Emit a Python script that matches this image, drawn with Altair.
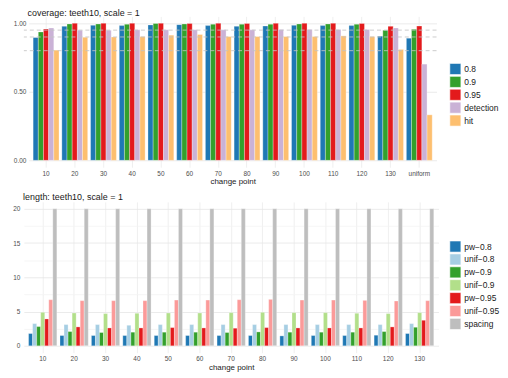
import altair as alt
import pandas as pd

# ---------- data ----------
cov_points = ["10", "20", "30", "40", "50", "60", "70", "80", "90", "100", "110", "120", "130", "uniform"]
cov_series = ["0.8", "0.9", "0.95", "detection", "hit"]
cov_colors = ["#1F78B4", "#33A02C", "#E31A1C", "#CAB2D6", "#FDBF6F"]
cov_08 = [0.896, 0.978, 0.985, 0.983, 0.988, 0.990, 0.983, 0.978, 0.980, 0.985, 0.983, 0.983, 0.906, 0.891]
cov_09 = [0.937, 0.995, 0.995, 0.993, 0.998, 0.995, 0.993, 0.993, 0.993, 0.995, 0.995, 0.993, 0.949, 0.956]
cov_095 = [0.959, 1.000, 1.000, 1.000, 1.000, 0.998, 1.000, 0.998, 1.000, 1.000, 1.000, 0.998, 0.978, 0.980]
cov_det = [0.966, 0.949, 0.949, 0.952, 0.952, 0.952, 0.952, 0.952, 0.954, 0.954, 0.954, 0.954, 0.966, 0.702]
cov_hit = [0.804, 0.898, 0.900, 0.903, 0.913, 0.918, 0.903, 0.903, 0.903, 0.903, 0.908, 0.903, 0.809, 0.332]
thresholds = [0.8, 0.9, 0.95]

len_points = ["10", "20", "30", "40", "50", "60", "70", "80", "90", "100", "110", "120", "130"]
len_series = ["pw\u22120.8", "unif\u22120.8", "pw\u22120.9", "unif\u22120.9", "pw\u22120.95", "unif\u22120.95", "spacing"]
len_colors = ["#1F78B4", "#A6CEE3", "#33A02C", "#B2DF8A", "#E31A1C", "#FB9A99", "#BEBEBE"]
pw_08 = [1.79, 1.50, 1.50, 1.50, 1.50, 1.50, 1.50, 1.50, 1.45, 1.50, 1.50, 1.55, 1.79]
unif_08 = [3.24, 3.10, 3.10, 3.00, 3.10, 3.10, 3.10, 3.10, 3.10, 3.10, 3.10, 3.10, 3.24]
pw_09 = [2.81, 2.08, 1.94, 1.99, 1.99, 1.99, 1.94, 2.03, 1.99, 1.99, 1.99, 2.08, 2.71]
unif_09 = [4.89, 4.79, 4.70, 4.75, 4.79, 4.79, 4.84, 4.89, 4.84, 4.84, 4.75, 4.70, 4.84]
pw_095 = [3.92, 2.76, 2.61, 2.61, 2.66, 2.61, 2.57, 2.66, 2.61, 2.61, 2.61, 2.76, 3.73]
unif_095 = [6.73, 6.59, 6.59, 6.59, 6.68, 6.68, 6.73, 6.78, 6.68, 6.68, 6.63, 6.54, 6.59]
spacing = [20, 20, 20, 20, 20, 20, 20, 20, 20, 20, 20, 20, 20]

# ---------- tables ----------
cov_rows = []
for s, vals in zip(cov_series, [cov_08, cov_09, cov_095, cov_det, cov_hit]):
    for p, v in zip(cov_points, vals):
        cov_rows.append({"cp": p, "series": s, "value": v})
cov_df = pd.DataFrame(cov_rows)

len_rows = []
for s, vals in zip(len_series, [pw_08, unif_08, pw_09, unif_09, pw_095, unif_095, spacing]):
    for p, v in zip(len_points, vals):
        len_rows.append({"cp": p, "series": s, "value": v})
len_df = pd.DataFrame(len_rows)
thr_df = pd.DataFrame({"t": thresholds})

FONT = "Liberation Sans"
W = 418


def x_enc(order, rng=None):
    sc = dict(paddingInner=0.1, paddingOuter=0.15)
    if rng is not None:
        sc["range"] = rng
    return alt.X(
        "cp:N", sort=order,
        scale=alt.Scale(**sc),
        axis=alt.Axis(title="change point", labelAngle=0, bandPosition=0.5,
                      grid=True, gridColor="#EBEBEB", gridWidth=0.8,
                      labelPadding=3, titlePadding=1, labelOverlap=False),
    )


def legend(xpos, ypos):
    return alt.Legend(title=None, orient="none", legendX=xpos, legendY=ypos,
                      symbolType="square", symbolSize=125, symbolStrokeColor="white",
                      symbolStrokeWidth=0.6, symbolOpacity=1, labelFontSize=8.5,
                      labelColor="#1a1a1a", labelFont=FONT, rowPadding=-3.8,
                      labelOffset=3, padding=0)


# ---------- top panel ----------
top_vals = [i * 0.125 for i in range(9)]
top_bars = alt.Chart(cov_df).mark_bar(stroke="white", strokeWidth=0.3).encode(
    x=x_enc(cov_points, [5, 416]),
    xOffset=alt.XOffset("series:N", sort=cov_series,
                        scale=alt.Scale(paddingInner=0, paddingOuter=0)),
    y=alt.Y("value:Q",
            scale=alt.Scale(domain=[-0.05, 1.05], nice=False, zero=False),
            axis=alt.Axis(title=None, values=top_vals, labelPadding=-2,
                          labelExpr="datum.value % 0.25 == 0 ? format(datum.value, '.2f') : ''",
                          gridColor=alt.condition("datum.value % 0.25 == 0",
                                                  alt.value("#E6E6E6"), alt.value("#F3F3F3")),
                          gridWidth=0.8)),
    color=alt.Color("series:N", sort=cov_series,
                    scale=alt.Scale(domain=cov_series, range=cov_colors),
                    legend=legend(429, 47)),
)
top_rules = alt.Chart(thr_df).mark_rule(color="#C4C4C4", opacity=0.85,
                                        strokeDash=[4, 3], strokeWidth=1).encode(
    y=alt.Y("t:Q")
)
top = alt.layer(top_bars, top_rules).properties(
    width=416, height=152,
    title=alt.TitleParams("coverage: teeth10, scale = 1", anchor="start",
                          fontSize=9, fontWeight="normal", font=FONT,
                          color="#1a1a1a", offset=-2, dx=19),
)

# ---------- bottom panel ----------
bot_vals = [i * 2.5 for i in range(9)]
bottom = alt.Chart(len_df).mark_bar(stroke="white", strokeWidth=0.3).encode(
    x=x_enc(len_points),
    xOffset=alt.XOffset("series:N", sort=len_series,
                        scale=alt.Scale(paddingInner=0, paddingOuter=0)),
    y=alt.Y("value:Q",
            scale=alt.Scale(domain=[-1, 21], nice=False, zero=False),
            axis=alt.Axis(title=None, values=bot_vals, labelPadding=4,
                          labelExpr="datum.value % 5 == 0 ? format(datum.value, 'd') : ''",
                          gridColor=alt.condition("datum.value % 5 == 0",
                                                  alt.value("#E6E6E6"), alt.value("#F3F3F3")),
                          gridWidth=0.8)),
    color=alt.Color("series:N", sort=len_series,
                    scale=alt.Scale(domain=len_series, range=len_colors),
                    legend=legend(429, 39)),
).properties(
    width=W, height=152,
    title=alt.TitleParams("length: teeth10, scale = 1", anchor="start",
                          fontSize=9, fontWeight="normal", font=FONT,
                          color="#1a1a1a", offset=0, dx=14.5),
)

chart = alt.vconcat(top, bottom, spacing=7).resolve_scale(
    color="independent", x="independent", y="independent", xOffset="independent"
).configure(
    font=FONT,
    padding={"left": 0, "top": 0, "right": 0, "bottom": 0},
).configure_view(
    stroke=None
).configure_axis(
    domain=False, ticks=False, labelFontSize=6.5, labelColor="#4D4D4D",
    labelFont=FONT, titleFont=FONT, titleFontSize=8, titleFontWeight="normal",
    titleColor="#1a1a1a",
).configure_axisY(
    minExtent=15.3, maxExtent=15.3,
)

chart.save("out.html", embed_options={"renderer": "svg", "actions": False})
